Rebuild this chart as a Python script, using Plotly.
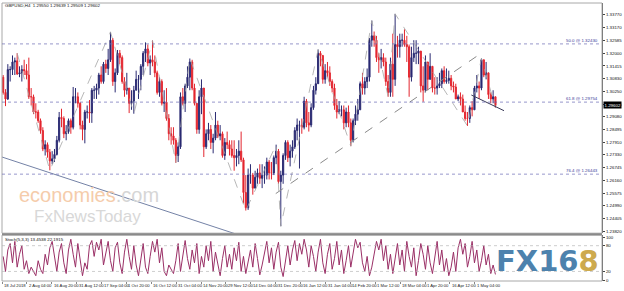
import plotly.graph_objects as go

# ---------------- data (daily aggregation of GBPUSD H4 chart) ----------------
FIRST_OPEN = 1.3090
HIGHS = [
    1.3100, 1.3035, 1.3150,
    1.3140, 1.3190, 1.3180, 1.3200, 1.3140,
    1.3145, 1.3170, 1.3150, 1.3180, 1.3040,
    1.3010, 1.2970, 1.2940, 1.2900, 1.2860,
    1.2800, 1.2790, 1.2760, 1.2750, 1.2760,
    1.2820, 1.2930, 1.2945, 1.2910, 1.2870,
    1.2900, 1.2900, 1.3045, 1.3040, 1.3020,
    1.2975, 1.2890, 1.2940, 1.2960, 1.2985,
    1.3040, 1.3050, 1.3060, 1.3110, 1.3140,
    1.3160, 1.3170, 1.3220, 1.3298, 1.3270,
    1.3130, 1.3215, 1.3215, 1.3190, 1.3090,
    1.3110, 1.3040, 1.3030, 1.3050, 1.3120,
    1.3100, 1.3150, 1.3210, 1.3250, 1.3240,
    1.3190, 1.3259, 1.3190, 1.3120, 1.3090,
    1.3080, 1.3030, 1.3040, 1.2920, 1.2860,
    1.2860, 1.2810, 1.2790, 1.3020, 1.3040,
    1.3060, 1.3140, 1.3176, 1.3170, 1.3060,
    1.2970, 1.3030, 1.3080, 1.3040, 1.2850,
    1.2880, 1.2870, 1.2830, 1.2930, 1.2890,
    1.2870, 1.2840, 1.2810, 1.2840, 1.2800,
    1.2800, 1.2800, 1.2760, 1.2800, 1.2840,
    1.2720, 1.2640, 1.2670, 1.2690, 1.2650,
    1.2660, 1.2670, 1.2690, 1.2690, 1.2680,
    1.2720, 1.2710, 1.2700, 1.2730,
    1.2780, 1.2760, 1.2660, 1.2740,
    1.2800, 1.2800, 1.2780, 1.2800, 1.2860,
    1.2900, 1.2890, 1.2900, 1.3000, 1.2990,
    1.2930, 1.2970, 1.3050, 1.3090, 1.3217,
    1.3210, 1.3190, 1.3150, 1.3160, 1.3140,
    1.3080, 1.3060, 1.2990, 1.2980, 1.2960,
    1.2960, 1.2950, 1.2960, 1.2900, 1.2900,
    1.2960, 1.2990, 1.3070, 1.3110, 1.3090,
    1.3130, 1.3270, 1.3350, 1.3300, 1.3280,
    1.3200, 1.3220, 1.3200, 1.3180, 1.3100,
    1.3180, 1.3290, 1.3381, 1.3280, 1.3290,
    1.3290, 1.3310, 1.3280, 1.3240, 1.3230,
    1.3260, 1.3260, 1.3230, 1.3210, 1.3140,
    1.3190, 1.3160, 1.3200, 1.3140, 1.3090,
    1.3090, 1.3110, 1.3130, 1.3140, 1.3130,
    1.3120, 1.3100, 1.3070, 1.3060, 1.3010,
    1.3020, 1.3010, 1.2960, 1.2930, 1.2960,
    1.2980, 1.3050, 1.3100, 1.3070, 1.3176,
    1.3170, 1.3160, 1.3110, 1.3020, 1.3030,
    1.3000,
]
LOWS = [
    1.3010, 1.2957, 1.2985,
    1.3070, 1.3100, 1.3100, 1.3100, 1.3090,
    1.3070, 1.3100, 1.3080, 1.2990, 1.2960,
    1.2920, 1.2900, 1.2880, 1.2830, 1.2750,
    1.2730, 1.2720, 1.2662, 1.2690, 1.2700,
    1.2730, 1.2790, 1.2860, 1.2810, 1.2800,
    1.2830, 1.2830, 1.2850, 1.2970, 1.2950,
    1.2850, 1.2800, 1.2786, 1.2900, 1.2880,
    1.2880, 1.2990, 1.2990, 1.3010, 1.3060,
    1.3060, 1.3110, 1.3100, 1.3160, 1.3050,
    1.3020, 1.3100, 1.3150, 1.3060, 1.3000,
    1.3010, 1.2925, 1.2940, 1.2922, 1.3030,
    1.2990, 1.3030, 1.3100, 1.3160, 1.3140,
    1.3100, 1.3140, 1.3090, 1.3010, 1.3000,
    1.2960, 1.2930, 1.2890, 1.2800, 1.2780,
    1.2780, 1.2696, 1.2700, 1.2760, 1.2960,
    1.2930, 1.3040, 1.3030, 1.3030, 1.2960,
    1.2830, 1.2830, 1.2920, 1.2723, 1.2760,
    1.2800, 1.2760, 1.2740, 1.2800, 1.2810,
    1.2800, 1.2720, 1.2710, 1.2760, 1.2730,
    1.2720, 1.2660, 1.2680, 1.2690, 1.2700,
    1.2510, 1.2477, 1.2480, 1.2600, 1.2550,
    1.2580, 1.2600, 1.2600, 1.2580, 1.2600,
    1.2620, 1.2620, 1.2620, 1.2640,
    1.2690, 1.2600, 1.2405, 1.2600,
    1.2710, 1.2700, 1.2680, 1.2720, 1.2760,
    1.2800, 1.2670, 1.2830, 1.2850, 1.2860,
    1.2840, 1.2860, 1.2940, 1.3010, 1.3060,
    1.3140, 1.3060, 1.3060, 1.3090, 1.3050,
    1.3020, 1.2940, 1.2900, 1.2920, 1.2910,
    1.2850, 1.2860, 1.2860, 1.2773, 1.2790,
    1.2870, 1.2890, 1.2940, 1.3010, 1.3010,
    1.3040, 1.3070, 1.3230, 1.3230, 1.3160,
    1.3110, 1.3130, 1.3140, 1.3050, 1.3000,
    1.3000, 1.3000, 1.3050, 1.3180, 1.3180,
    1.3230, 1.3230, 1.3160, 1.3000, 1.3070,
    1.3160, 1.3150, 1.3150, 1.3020, 1.2977,
    1.3020, 1.3030, 1.3080, 1.3020, 1.3010,
    1.3010, 1.3040, 1.3040, 1.3060, 1.3060,
    1.3060, 1.3030, 1.3020, 1.2990, 1.2980,
    1.2960, 1.2930, 1.2890, 1.2866, 1.2880,
    1.2910, 1.2940, 1.3020, 1.2990, 1.3030,
    1.3090, 1.3080, 1.2990, 1.2970, 1.2970,
    1.2950,
]
CLOSES = [
    1.3020, 1.2990, 1.3125,
    1.3125, 1.3160, 1.3165, 1.3105, 1.3110,
    1.3125, 1.3120, 1.3100, 1.3000, 1.3000,
    1.2930, 1.2930, 1.2890, 1.2845, 1.2760,
    1.2780, 1.2745, 1.2705, 1.2715, 1.2735,
    1.2800, 1.2905, 1.2900, 1.2830, 1.2840,
    1.2890, 1.2860, 1.3000, 1.3000, 1.2970,
    1.2870, 1.2850, 1.2930, 1.2930, 1.2925,
    1.3030, 1.3030, 1.3040, 1.3100, 1.3070,
    1.3150, 1.3130, 1.3170, 1.3260, 1.3070,
    1.3110, 1.3200, 1.3180, 1.3070, 1.3030,
    1.3040, 1.2970, 1.2980, 1.3030, 1.3080,
    1.3080, 1.3140, 1.3200, 1.3220, 1.3155,
    1.3170, 1.3160, 1.3110, 1.3020, 1.3070,
    1.2970, 1.2975, 1.2900, 1.2830, 1.2820,
    1.2800, 1.2730, 1.2770, 1.3000, 1.2970,
    1.3050, 1.3090, 1.3160, 1.3040, 1.2970,
    1.2850, 1.3000, 1.3040, 1.2770, 1.2830,
    1.2850, 1.2790, 1.2810, 1.2870, 1.2820,
    1.2830, 1.2730, 1.2790, 1.2780, 1.2760,
    1.2730, 1.2720, 1.2730, 1.2750, 1.2710,
    1.2560, 1.2490, 1.2640, 1.2640, 1.2580,
    1.2630, 1.2650, 1.2625, 1.2640, 1.2640,
    1.2700, 1.2650, 1.2650, 1.2720,
    1.2750, 1.2610, 1.2640, 1.2730,
    1.2790, 1.2720, 1.2750, 1.2770, 1.2845,
    1.2870, 1.2870, 1.2860, 1.2980, 1.2880,
    1.2870, 1.2950, 1.3030, 1.3060, 1.3200,
    1.3190, 1.3080, 1.3120, 1.3110, 1.3070,
    1.3040, 1.2960, 1.2930, 1.2940, 1.2940,
    1.2880, 1.2930, 1.2880, 1.2800, 1.2890,
    1.2920, 1.2940, 1.3060, 1.3040, 1.3070,
    1.3090, 1.3260, 1.3280, 1.3260, 1.3180,
    1.3170, 1.3180, 1.3160, 1.3070, 1.3020,
    1.3150, 1.3080, 1.3240, 1.3230, 1.3260,
    1.3260, 1.3240, 1.3230, 1.3090, 1.3180,
    1.3200, 1.3200, 1.3210, 1.3050, 1.3030,
    1.3160, 1.3080, 1.3140, 1.3040, 1.3040,
    1.3050, 1.3060, 1.3120, 1.3070, 1.3075,
    1.3085, 1.3050, 1.3045, 1.2990, 1.3000,
    1.2990, 1.2930, 1.2900, 1.2900, 1.2950,
    1.2940, 1.3040, 1.3050, 1.3040, 1.3170,
    1.3100, 1.3110, 1.3010, 1.2990, 1.3000,
    1.2960,
]
STOCH = [
    55, 20, 70, 85, 40, 90, 30, 60, 80, 25,
    45, 15, 30, 20, 10, 45, 25, 15, 60, 35,
    75, 90, 50, 20, 65, 85, 40, 15, 70, 95,
    60, 30, 85, 50, 10, 40, 25, 80, 92, 55,
    88, 70, 95, 35, 60, 90, 45, 20, 75, 88,
    40, 15, 65, 95, 55, 25, 80, 35, 10, 50,
    85, 30, 15, 55, 90, 65, 95, 40, 75, 20,
    10, 35, 25, 15, 45, 85, 20, 60, 92, 50,
    25, 70, 40, 85, 15, 55, 30, 80, 45, 90,
    20, 65, 35, 10, 50, 80, 30, 60, 25, 75,
    45, 88, 20, 55, 15, 40, 70, 30, 85, 50,
    12, 35, 60, 90, 40, 75, 25, 65, 88, 30,
    8, 50, 80, 35, 70, 92, 45, 85, 60, 95,
    70, 30, 80, 55, 20, 65, 95, 40, 15, 60,
    85, 25, 50, 90, 35, 70, 15, 45, 80, 30,
    60, 95, 75, 88, 40, 20, 55, 10, 30, 65,
    90, 70, 95, 45, 80, 25, 60, 15, 50, 85,
    35, 70, 20, 90, 55, 30, 75, 10, 45, 85,
    60, 25, 80, 40, 15, 55, 90, 35, 70, 20,
    50, 10, 30, 65, 20, 75, 95, 60, 85, 30,
    55, 90, 40, 70, 20, 45, 80, 35, 60, 15,
    35, 13,
]
BARS_PER_DAY = 6

# price axis tick labels
PRICE_TICKS = [1.33770, 1.33170, 1.32585, 1.32000, 1.31415, 1.30830, 1.30250,
               1.29665, 1.29080, 1.28495, 1.27910, 1.27330, 1.26745, 1.26160,
               1.25575, 1.24990, 1.24405, 1.23820]
LAST_PRICE = 1.29602
HEADER = "GBPUSD,H4  1.29550 1.29639 1.29509 1.29602"
STOCH_LABEL = "Stoch(5,3,3) 13.4538 22.1915"

# time axis labels (bar index of each label)
DATE_BARS = [0, 64, 128, 192, 256, 320, 384, 448, 512, 576,
             640, 704, 768, 832, 896, 960, 1024, 1088, 1152, 1216]
DATE_LABELS = ["18 Jul 2018", "2 Aug 04:00", "16 Aug 20:00", "31 Aug 12:00",
               "17 Sep 04:00", "1 Oct 20:00", "16 Oct 12:00", "31 Oct 04:00",
               "14 Nov 20:00", "29 Nov 12:00", "14 Dec 04:00", "31 Dec 20:00",
               "16 Jan 12:00", "31 Jan 04:00", "14 Feb 20:00", "1 Mar 12:00",
               "18 Mar 04:00", "1 Apr 20:00", "16 Apr 12:00", "1 May 04:00"]

# Fibonacci levels
FIB_NAMES = ["50.0", "61.8", "76.4"]
FIB_PRICES = [1.32430, 1.29754, 1.26443]

# drawn objects (bar index, price)
ZZ_DAYS = [6, 20, 46, 56, 64, 74, 80, 104, 117, 119, 135, 149, 158, 165, 168, 199, 205, 211]
ZZ_PRICES = [1.3200, 1.2662, 1.3298, 1.2922, 1.3259, 1.2696, 1.3176, 1.2477, 1.2780,
             1.2405, 1.3217, 1.2773, 1.3350, 1.3000, 1.3381, 1.2866, 1.3176, 1.2950]
DOWN_TL_BARS = [-5, 600]
DOWN_TL_PRICES = [1.2726, 1.2370]
UP_TL_BARS = [704, 1224]
UP_TL_PRICES = [1.2555, 1.3190]
SHORT_TL_BARS = [1207, 1291]
SHORT_TL_PRICES = [1.3008, 1.2936]

# ---------------- figure ----------------
W, H = 624, 291
ML, MR, MT, MB = 2, 17, 2, 10
PW, PH = W - ML - MR, H - MT - MB


def py(y):
    return (H - MB - y) / PH


def px(x):
    return (x - ML) / PW


n = len(CLOSES)
bars = [d * BARS_PER_DAY + 3 for d in range(n)]
opens = [FIRST_OPEN] + CLOSES[:-1]

FONT = "Liberation Sans Narrow, Liberation Sans"
SMALL = 4.4

fig = go.Figure()
fig.add_trace(go.Candlestick(
    x=bars, open=opens, high=HIGHS, low=LOWS, close=CLOSES,
    increasing=dict(line=dict(color="#2a2a72", width=1), fillcolor="#2a2a72"),
    decreasing=dict(line=dict(color="#e3262f", width=1), fillcolor="#e3262f"),
    whiskerwidth=0, showlegend=False, hoverinfo="skip", xaxis="x", yaxis="y"))

fig.add_trace(go.Scatter(x=DOWN_TL_BARS, y=DOWN_TL_PRICES, mode="lines",
                         line=dict(color="#7482a6", width=1), showlegend=False,
                         hoverinfo="skip", xaxis="x", yaxis="y"))
fig.add_trace(go.Scatter(x=UP_TL_BARS, y=UP_TL_PRICES, mode="lines",
                         line=dict(color="#8a8a8a", width=1, dash="dash"), showlegend=False,
                         hoverinfo="skip", xaxis="x", yaxis="y"))
fig.add_trace(go.Scatter(x=[d * BARS_PER_DAY + 3 for d in ZZ_DAYS], y=ZZ_PRICES, mode="lines",
                         line=dict(color="#a4a4a4", width=0.8, dash="dash"), showlegend=False,
                         hoverinfo="skip", xaxis="x", yaxis="y"))
fig.add_trace(go.Scatter(x=SHORT_TL_BARS, y=SHORT_TL_PRICES, mode="lines",
                         line=dict(color="#3a3a58", width=1), showlegend=False,
                         hoverinfo="skip", xaxis="x", yaxis="y"))

fig.add_trace(go.Scatter(x=bars, y=STOCH, mode="lines",
                         line=dict(color="#9a2f66", width=1), showlegend=False,
                         hoverinfo="skip", xaxis="x2", yaxis="y2"))

main_bottom = py(233)
stoch_top = py(235)
XR = [0, 1543]

shapes = []
# frames
shapes.append(dict(type="rect", xref="paper", yref="paper", x0=0, x1=1, y0=main_bottom, y1=1,
                   line=dict(color="#a8a8a8", width=1)))
shapes.append(dict(type="rect", xref="paper", yref="paper", x0=0, x1=1, y0=0, y1=stoch_top,
                   line=dict(color="#a8a8a8", width=1)))
shapes.append(dict(type="rect", xref="paper", yref="paper", x0=0, x1=1, y0=stoch_top, y1=main_bottom,
                   fillcolor="#8a8a8a", line=dict(width=0)))
# fib lines
for p in FIB_PRICES:
    shapes.append(dict(type="line", xref="paper", yref="y", x0=0, x1=1, y0=p, y1=p,
                       line=dict(color="#6a6ab4", width=0.7, dash="dot")))
# stochastic levels
for lv in [20, 80]:
    shapes.append(dict(type="line", xref="paper", yref="y2", x0=0, x1=1, y0=lv, y1=lv,
                       line=dict(color="#b8b8b8", width=0.7, dash="dot")))

ann = []
ann.append(dict(text=HEADER, xref="paper", yref="paper", x=px(3), y=py(5), xanchor="left",
                yanchor="middle", showarrow=False, font=dict(family=FONT, size=SMALL, color="#111")))
ann.append(dict(text=STOCH_LABEL, xref="paper", yref="paper", x=px(3), y=py(239), xanchor="left",
                yanchor="middle", showarrow=False, font=dict(family=FONT, size=SMALL, color="#111")))
for name, p in zip(FIB_NAMES, FIB_PRICES):
    ann.append(dict(text=f"{name} @ {p:.5f}", xref="paper", yref="y", x=px(605), y=p,
                    xanchor="right", yanchor="bottom", yshift=-1, showarrow=False,
                    font=dict(family=FONT, size=SMALL, color="#3c3c9a")))
ann.append(dict(text=f"{LAST_PRICE:.5f}", xref="paper", yref="y", x=1, y=LAST_PRICE, xanchor="left",
                yanchor="middle", xshift=1, showarrow=False, bgcolor="#000000", borderpad=0.5,
                font=dict(family=FONT, size=SMALL, color="#ffffff")))
for b, lab in zip(DATE_BARS, DATE_LABELS):
    ann.append(dict(text=lab, xref="x2", yref="paper", x=b, y=py(285.5), xanchor="left",
                    yanchor="middle", showarrow=False, font=dict(family=FONT, size=4.2, color="#222")))
# watermarks
ann.append(dict(text="<span style='color:#f5ccab'>economies</span><span style='color:#d6d6d6'>.com</span>",
                xref="paper", yref="paper", x=px(90), y=py(195), xanchor="center", yanchor="middle",
                showarrow=False, font=dict(family="Liberation Sans", size=20)))
ann.append(dict(text="FxNewsToday", xref="paper", yref="paper", x=px(88), y=py(216), xanchor="center",
                yanchor="middle", showarrow=False, font=dict(family="Liberation Sans", size=17, color="#d8d8d8")))
ann.append(dict(text="<b><span style='color:#4d82ad'>FX16</span><span style='color:#cdaa4e'>8</span></b>",
                xref="paper", yref="paper", x=px(552), y=py(261), xanchor="center", yanchor="middle",
                showarrow=False, font=dict(family="DejaVu Sans", size=29)))

fig.update_layout(
    width=W, height=H, margin=dict(l=ML, r=MR, t=MT, b=MB),
    paper_bgcolor="white", plot_bgcolor="white", showlegend=False,
    xaxis=dict(domain=[0, 1], range=XR, anchor="y", showticklabels=False, showgrid=False,
               zeroline=False, showline=False, ticks="", rangeslider=dict(visible=False)),
    xaxis2=dict(domain=[0, 1], range=XR, anchor="y2", showticklabels=False, showgrid=False,
                zeroline=False, showline=False, ticks="outside", ticklen=2, tickcolor="#888",
                tickvals=DATE_BARS),
    yaxis=dict(domain=[main_bottom, 1], range=[1.2373, 1.3431], side="right", anchor="x",
               tickvals=PRICE_TICKS, ticktext=[f"{v:.5f}" for v in PRICE_TICKS],
               tickfont=dict(family=FONT, size=SMALL, color="#111"), ticks="outside", ticklen=2,
               tickcolor="#444", showline=True, linecolor="#555", linewidth=1,
               showgrid=False, zeroline=False),
    yaxis2=dict(domain=[0, stoch_top], range=[-2.3, 104.5], side="right", anchor="x2",
                tickvals=[0, 20, 80, 100], ticktext=["0", "20", "80", "100"],
                tickfont=dict(family=FONT, size=SMALL, color="#111"), ticks="outside", ticklen=2,
                tickcolor="#444", showline=True, linecolor="#555", linewidth=1,
                showgrid=False, zeroline=False),
    shapes=shapes, annotations=ann,
)

fig.write_html("out.html")
